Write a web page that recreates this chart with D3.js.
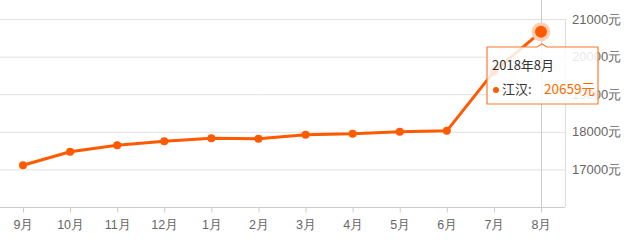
<!DOCTYPE html>
<html lang="zh">
<head>
    <meta charset="UTF-8">
    <title>江汉房价</title>
    <script src="https://d3js.org/d3.v7.min.js"></script>
    <style>
        body{
            margin: 0;
            background: #fff;
            font-family: "Noto Sans CJK SC", "Noto Sans", sans-serif;
        }
        #canvas{
            display: block;
        }
        .tick text{
            fill: #666;
            font-size: 12.5px;
        }
    </style>
</head>
<body>
<svg id="canvas" width="634" height="240"></svg>
<script>

    let months = ["9月","10月","11月","12月","1月","2月","3月","4月","5月","6月","7月","8月"];
    let prices = [17110,17470,17640,17750,17830,17815,17920,17945,18000,18025,19600,20659];
    let yTicks = [17000,18000,19000,20000,21000];
    let hoverIndex = 11;
    let hoverTitle = "2018年8月";
    let seriesName = "江汉";

    let svg = d3.select('svg');

    let xScale = d3.scalePoint()
        .domain(months)
        .range([23, 541]);
    let yScale = d3.scaleLinear()
        .domain([16000, 21000])
        .range([207, 19]);

    // grid
    svg.append('g')
        .selectAll('line')
        .data(yTicks)
        .enter()
        .append('line')
        .attr("x1", 0).attr("x2", 565)
        .attr("y1", d => yScale(d) + 0.5).attr("y2", d => yScale(d) + 0.5)
        .attr("stroke", "#e0e0e0");

    svg.append('line')
        .attr("x1", 565.5).attr("x2", 565.5)
        .attr("y1", yScale(21000)).attr("y2", yScale(16000))
        .attr("stroke", "#ddd");

    // hover pointer line
    svg.append('line')
        .attr("x1", xScale(months[hoverIndex]) + 0.5).attr("x2", xScale(months[hoverIndex]) + 0.5)
        .attr("y1", 0).attr("y2", yScale(16000))
        .attr("stroke", "#ccc");

    // x axis
    let xAxis = svg.append('g')
        .attr("transform", "translate(0," + (yScale(16000) + 0.5) + ")")
        .call(d3.axisBottom(xScale).tickSize(5).tickPadding(8));
    xAxis.select('.domain').attr("stroke", "#ccc").attr("d", "M0,0H565");
    xAxis.selectAll('.tick line').attr("stroke", "#ccc");

    // y axis on the right
    let yAxis = svg.append('g')
        .attr("transform", "translate(572,0)")
        .call(d3.axisRight(yScale).tickValues(yTicks).tickSize(0).tickPadding(0)
            .tickFormat(d => d + "元"));
    yAxis.select('.domain').remove();
    yAxis.selectAll('.tick text').style("font-size", "13px");

    // line
    let lineGen = d3.line()
        .x((d, i) => xScale(months[i]))
        .y(d => yScale(d));
    svg.append('path')
        .datum(prices)
        .attr("d", lineGen)
        .attr("fill", "none")
        .attr("stroke", "#ff5a00")
        .attr("stroke-width", 3)
        .attr("stroke-linejoin", "round");

    svg.append('g')
        .selectAll('circle')
        .data(prices)
        .enter()
        .append('circle')
        .filter((d, i) => i !== hoverIndex)
        .attr("cx", (d, i) => xScale(months[i]))
        .attr("cy", d => yScale(d))
        .attr("r", 4)
        .attr("fill", "#ff5a00");

    let hx = xScale(months[hoverIndex]);
    let hy = yScale(prices[hoverIndex]);
    svg.append('circle')
        .attr("cx", hx).attr("cy", hy).attr("r", 9.5)
        .attr("fill", "#ffd2b8");
    svg.append('circle')
        .attr("cx", hx).attr("cy", hy).attr("r", 6)
        .attr("fill", "#ff5a00");

    // tooltip
    let tip = svg.append('g').attr("transform", "translate(487,44)");
    tip.append('path')
        .attr("d", "M0,3H50L55,0L60,3H111V60H0Z")
        .attr("fill", "rgba(255,255,255,0.85)")
        .attr("stroke", "#ff7a2a")
        .attr("stroke-width", 1.2);
    tip.append('text')
        .attr("x", 5).attr("y", 26)
        .attr("fill", "#333")
        .style("font-size", "13px")
        .text(hoverTitle);
    tip.append('circle')
        .attr("cx", 9).attr("cy", 46).attr("r", 3)
        .attr("fill", "#ff5a00");
    tip.append('text')
        .attr("x", 15).attr("y", 50)
        .attr("fill", "#333")
        .style("font-size", "13px")
        .text(seriesName + ":");
    tip.append('text')
        .attr("x", 108).attr("y", 50)
        .attr("text-anchor", "end")
        .attr("fill", "#ff6a00")
        .style("font-size", "13.5px")
        .text(prices[hoverIndex] + "元");

</script>
</body>
</html>
